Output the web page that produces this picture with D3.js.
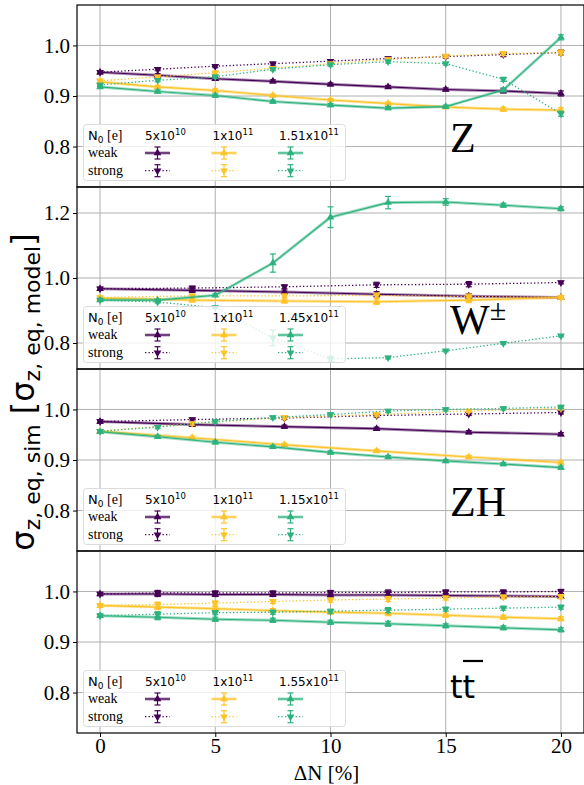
<!DOCTYPE html>
<html><head><meta charset="utf-8">
<script src="https://cdn.jsdelivr.net/npm/d3@7"></script>
<style>body{margin:0;background:#fff}svg{display:block}
.serif{font-family:"Liberation Serif","Tinos","Times New Roman","Times","Nimbus Roman","FreeSerif","DejaVu Serif",serif}
.sans{font-family:"DejaVu Sans",sans-serif}</style>
</head><body>
<script>
// ---- data ----
const xFine = [0, 2.5, 5, 7.5, 10, 12.5, 15, 17.5, 20];
const xCoarse = [0, 4, 8, 12, 16, 20];
const xTicks = [0, 5, 10, 15, 20];
const yTicksStd = [0.8, 0.9, 1.0];
const yTicksW = [0.8, 1.0, 1.2];
const panelNames = ["Z", "W", "ZH", "tt"];
const intensityLabels = ["5x10|10", "1x10|11"];
const thirdIntensity = ["1.51x10|11", "1.45x10|11", "1.15x10|11", "1.55x10|11"];
const colors = ["#440154", "#fdc328", "#2db27d"];

// Z
const zPurpleWeak   = [0.947,0.941,0.934,0.929,0.923,0.918,0.913,0.910,0.905];
const zPurpleStrong = [0.947,0.953,0.959,0.964,0.969,0.974,0.978,0.982,0.986];
const zYellowWeak   = [0.928,0.918,0.911,0.901,0.892,0.885,0.878,0.874,0.872];
const zYellowStrong = [0.930,0.938,0.946,0.955,0.964,0.972,0.979,0.984,0.986];
const zGreenWeak    = [0.918,0.909,0.901,0.889,0.882,0.876,0.879,0.912,1.016];
const zGreenStrong  = [0.922,0.931,0.938,0.953,0.962,0.968,0.964,0.933,0.865];
const zErr          = [0.003,0.003,0.003,0.003,0.003,0.003,0.003,0.004,0.005];
// W
const wPurpleWeak   = [0.967,0.962,0.957,0.950,0.944,0.940];
const wPurpleStrong = [0.967,0.969,0.973,0.979,0.981,0.986];
const wYellowWeak   = [0.938,0.932,0.929,0.927,0.932,0.940];
const wYellowStrong = [0.940,0.945,0.945,0.946,0.943,0.940];
const wCoarseErr    = [0.004,0.006,0.006,0.008,0.008,0.004];
const wGreenWeak    = [0.932,0.932,0.947,1.046,1.187,1.232,1.234,1.224,1.213];
const wGreenWeakErr = [0.003,0.003,0.004,0.028,0.032,0.019,0.010,0.006,0.006];
const wGreenStrong  = [0.932,0.926,0.909,0.816,0.751,0.755,0.776,0.799,0.822];
const wGreenStrongErr=[0.003,0.003,0.003,0.024,0.008,0.004,0.003,0.003,0.003];
// ZH
const zhPurpleWeak   = [0.976,0.970,0.966,0.962,0.955,0.951];
const zhPurpleStrong = [0.976,0.980,0.983,0.988,0.991,0.994];
const zhYellowWeak   = [0.957,0.944,0.930,0.918,0.906,0.895];
const zhYellowStrong = [0.957,0.972,0.984,0.990,0.997,1.002];
const zhGreenWeak    = [0.956,0.946,0.935,0.926,0.915,0.906,0.898,0.892,0.885];
const zhGreenStrong  = [0.957,0.965,0.976,0.984,0.990,0.997,1.000,1.002,1.005];
const zhErr          = [0.003,0.003,0.003,0.003,0.003,0.003,0.003,0.003,0.003];
// ttbar
const ttPurpleWeak   = [0.995,0.995,0.994,0.994,0.993,0.993,0.992,0.991,0.990];
const ttPurpleStrong = [0.995,0.997,0.997,0.997,0.998,0.998,0.999,0.999,1.000];
const ttYellowWeak   = [0.972,0.969,0.966,0.962,0.959,0.957,0.953,0.949,0.946];
const ttYellowStrong = [0.972,0.974,0.977,0.980,0.983,0.985,0.987,0.989,0.990];
const ttGreenWeak    = [0.952,0.949,0.945,0.943,0.939,0.936,0.932,0.928,0.924];
const ttGreenStrong  = [0.952,0.955,0.958,0.959,0.961,0.963,0.965,0.967,0.969];
const ttErr          = [0.003,0.005,0.004,0.004,0.004,0.005,0.004,0.004,0.004];

// ---- build series per panel ----
function S(xs, ys, err, c, strong){ return {xs, ys, err, c, strong}; }
const panelSeries = [
  [S(xFine,zPurpleWeak,zErr,0,false),S(xFine,zPurpleStrong,zErr,0,true),
   S(xFine,zYellowWeak,zErr,1,false),S(xFine,zYellowStrong,zErr,1,true),
   S(xFine,zGreenWeak,zErr,2,false),S(xFine,zGreenStrong,zErr,2,true)],
  [S(xCoarse,wPurpleWeak,wCoarseErr,0,false),S(xCoarse,wPurpleStrong,wCoarseErr,0,true),
   S(xCoarse,wYellowWeak,wCoarseErr,1,false),S(xCoarse,wYellowStrong,wCoarseErr,1,true),
   S(xFine,wGreenWeak,wGreenWeakErr,2,false),S(xFine,wGreenStrong,wGreenStrongErr,2,true)],
  [S(xCoarse,zhPurpleWeak,zhErr,0,false),S(xCoarse,zhPurpleStrong,zhErr,0,true),
   S(xCoarse,zhYellowWeak,zhErr,1,false),S(xCoarse,zhYellowStrong,zhErr,1,true),
   S(xFine,zhGreenWeak,zhErr,2,false),S(xFine,zhGreenStrong,zhErr,2,true)],
  [S(xFine,ttPurpleWeak,ttErr,0,false),S(xFine,ttPurpleStrong,ttErr,0,true),
   S(xFine,ttYellowWeak,ttErr,1,false),S(xFine,ttYellowStrong,ttErr,1,true),
   S(xFine,ttGreenWeak,ttErr,2,false),S(xFine,ttGreenStrong,ttErr,2,true)]
];
const panelDomains = [[0.72,1.08],[0.72,1.28],[0.72,1.08],[0.72,1.08]];
const panelTicks = [yTicksStd, yTicksW, yTicksStd, yTicksStd];

// ---- layout ----
const figW = 584, figH = 785;
const axLeft = 77, axRight = 584, axTop = 5, axBottom = 733;
const ph = (axBottom - axTop) / 4;

const svg = d3.select("body").append("svg").attr("width", figW).attr("height", figH);
const x = d3.scaleLinear().domain([-1, 21]).range([axLeft, axRight]);

function drawMarker(g, cx, cy, strong, color, e){
  const a = e.lo, b = e.hi;
  g.append("line").attr("x1",cx).attr("x2",cx).attr("y1",a).attr("y2",b).attr("stroke",color).attr("stroke-width",1.2);
  [a,b].forEach(v=>g.append("line").attr("x1",cx-3).attr("x2",cx+3).attr("y1",v).attr("y2",v).attr("stroke",color).attr("stroke-width",1.2));
  g.append("path").attr("d", d3.symbol().type(d3.symbolTriangle).size(26)())
    .attr("transform", `translate(${cx},${cy}) rotate(${strong?180:0})`).attr("fill", color);
}

panelSeries.forEach((series, pi) => {
  const pTop = axTop + pi*ph, pBot = pTop + ph;
  const y = d3.scaleLinear().domain(panelDomains[pi]).range([pBot, pTop]);
  const g = svg.append("g");
  // grid
  g.selectAll(".gx").data(xTicks).join("line").attr("x1",d=>x(d)).attr("x2",d=>x(d))
    .attr("y1",pTop).attr("y2",pBot).attr("stroke","#b0b0b0").attr("stroke-width",1);
  g.selectAll(".gy").data(panelTicks[pi]).join("line").attr("x1",axLeft).attr("x2",axRight)
    .attr("y1",d=>y(d)).attr("y2",d=>y(d)).attr("stroke","#b0b0b0").attr("stroke-width",1);
  // y axis
  const ya = g.append("g").attr("transform",`translate(${axLeft},0)`)
    .call(d3.axisLeft(y).tickValues(panelTicks[pi]).tickFormat(d3.format(".1f")).tickSize(4).tickPadding(3));
  ya.attr("font-family",null);
  ya.select(".domain").remove();
  ya.selectAll("text").attr("class","serif").attr("font-size",21).attr("fill","#000");
  ya.selectAll("line").attr("stroke","#000");
  if (pi === 3) {
    const xa = g.append("g").attr("transform",`translate(0,${pBot})`)
      .call(d3.axisBottom(x).tickValues(xTicks).tickFormat(d3.format("d")).tickSize(4).tickPadding(1));
    xa.attr("font-family",null);
    xa.select(".domain").remove();
    xa.selectAll("text").attr("class","serif").attr("font-size",21).attr("fill","#000");
    xa.selectAll("line").attr("stroke","#000");
  }
  // clip
  const cid = "clip"+pi;
  svg.append("clipPath").attr("id",cid).append("rect").attr("x",axLeft).attr("y",pTop).attr("width",axRight-axLeft).attr("height",ph);
  const dg = g.append("g").attr("clip-path",`url(#${cid})`);
  series.forEach(s => {
    const col = colors[s.c];
    const pts = s.xs.map((xv,i)=>[x(xv), y(s.ys[i])]);
    const line = d3.line();
    if (!s.strong) {
      dg.append("path").attr("d",line(pts)).attr("fill","none").attr("stroke",col).attr("stroke-width",3).attr("stroke-opacity",0.45);
      dg.append("path").attr("d",line(pts)).attr("fill","none").attr("stroke",col).attr("stroke-width",1.1);
    } else {
      dg.append("path").attr("d",line(pts)).attr("fill","none").attr("stroke",col).attr("stroke-width",1.3).attr("stroke-dasharray","1.3,2.2");
    }
    s.xs.forEach((xv,i)=>{
      drawMarker(dg, x(xv), y(s.ys[i]), s.strong, col, {lo:y(s.ys[i]-s.err[i]), hi:y(s.ys[i]+s.err[i])});
    });
  });
  // frame
  g.append("rect").attr("x",axLeft).attr("y",pTop).attr("width",axRight-axLeft).attr("height",ph)
    .attr("fill","none").attr("stroke","#000").attr("stroke-width",1.2);

  // legend
  const lg = g.append("g");
  lg.append("rect").attr("x",83.5).attr("y",pTop+119.5).attr("width",262).attr("height",56).attr("rx",3)
    .attr("fill","#fff").attr("fill-opacity",0.8).attr("stroke","#dcdcdc").attr("stroke-width",1);
  const hdr = lg.append("text").attr("x",88).attr("y",pTop+135);
  hdr.append("tspan").attr("class","sans").attr("font-size",13).text("N");
  hdr.append("tspan").attr("class","sans").attr("font-size",9).attr("dy",2.5).text("0");
  hdr.append("tspan").attr("class","serif").attr("font-size",14).attr("dy",-2.5).text(" [e]");
  lg.append("text").attr("x",88).attr("y",pTop+152).attr("class","serif").attr("font-size",14).text("weak");
  lg.append("text").attr("x",88).attr("y",pTop+169.5).attr("class","serif").attr("font-size",14).text("strong");
  const labs = [intensityLabels[0], intensityLabels[1], thirdIntensity[pi]];
  const colX = [157.5, 224, 290.5];
  const labX = [145, 212.5, 279];
  labs.forEach((lab, k) => {
    const [base, exp] = lab.split("|");
    const t = lg.append("text").attr("x",labX[k]).attr("y",pTop+134.5).attr("class","sans").attr("font-size",12);
    t.append("tspan").text(base);
    t.append("tspan").attr("font-size",8.5).attr("dy",-5).text(exp);
    const col = colors[k];
    [false,true].forEach((strong, r) => {
      const cy = pTop + (r ? 165.7 : 148);
      const cx = colX[k];
      if (!strong) {
        lg.append("line").attr("x1",cx-12.5).attr("x2",cx+12.5).attr("y1",cy).attr("y2",cy).attr("stroke",col).attr("stroke-width",3).attr("stroke-opacity",0.45);
        lg.append("line").attr("x1",cx-12.5).attr("x2",cx+12.5).attr("y1",cy).attr("y2",cy).attr("stroke",col).attr("stroke-width",1.1);
      } else {
        lg.append("line").attr("x1",cx-12.5).attr("x2",cx+12.5).attr("y1",cy).attr("y2",cy).attr("stroke",col).attr("stroke-width",1.3).attr("stroke-dasharray","1.3,2.2");
      }
      drawMarker(lg, cx, cy, strong, col, {lo:cy-6, hi:cy+6});
    });
  });

  // panel label
  const lbl = g.append("text").attr("x",450).attr("y",pTop+146.5).attr("fill","#000");
  if (panelNames[pi] === "Z") lbl.attr("class","serif").attr("font-size",42).text("Z");
  else if (panelNames[pi] === "ZH") lbl.attr("class","serif").attr("font-size",42).text("ZH");
  else if (panelNames[pi] === "W") {
    lbl.attr("class","serif").attr("font-size",42);
    lbl.append("tspan").text("W");
    lbl.append("tspan").attr("font-size",30).attr("dy",-14).text("±");
  } else {
    lbl.attr("class","sans").attr("font-size",32).text("tt");
    g.append("line").attr("x1",463).attr("x2",483).attr("y1",pTop+110).attr("y2",pTop+110).attr("stroke","#000").attr("stroke-width",2.2);
  }
});

// axis labels
svg.append("text").attr("x",(axLeft+axRight)/2 - 4).attr("y",780).attr("text-anchor","middle")
  .attr("class","serif").attr("font-size",21).text("ΔN [%]");
const yl = svg.append("text").attr("transform",`translate(34,392) rotate(-90)`)
  .attr("text-anchor","middle").attr("class","sans").attr("font-size",32);
yl.append("tspan").text("σ");
yl.append("tspan").attr("font-size",22).attr("dy",6).text("z, eq, sim");
yl.append("tspan").attr("dy",-6).text(" [σ");
yl.append("tspan").attr("font-size",22).attr("dy",6).text("z, eq, model");
yl.append("tspan").attr("dy",-6).text("]");
</script>
</body></html>
